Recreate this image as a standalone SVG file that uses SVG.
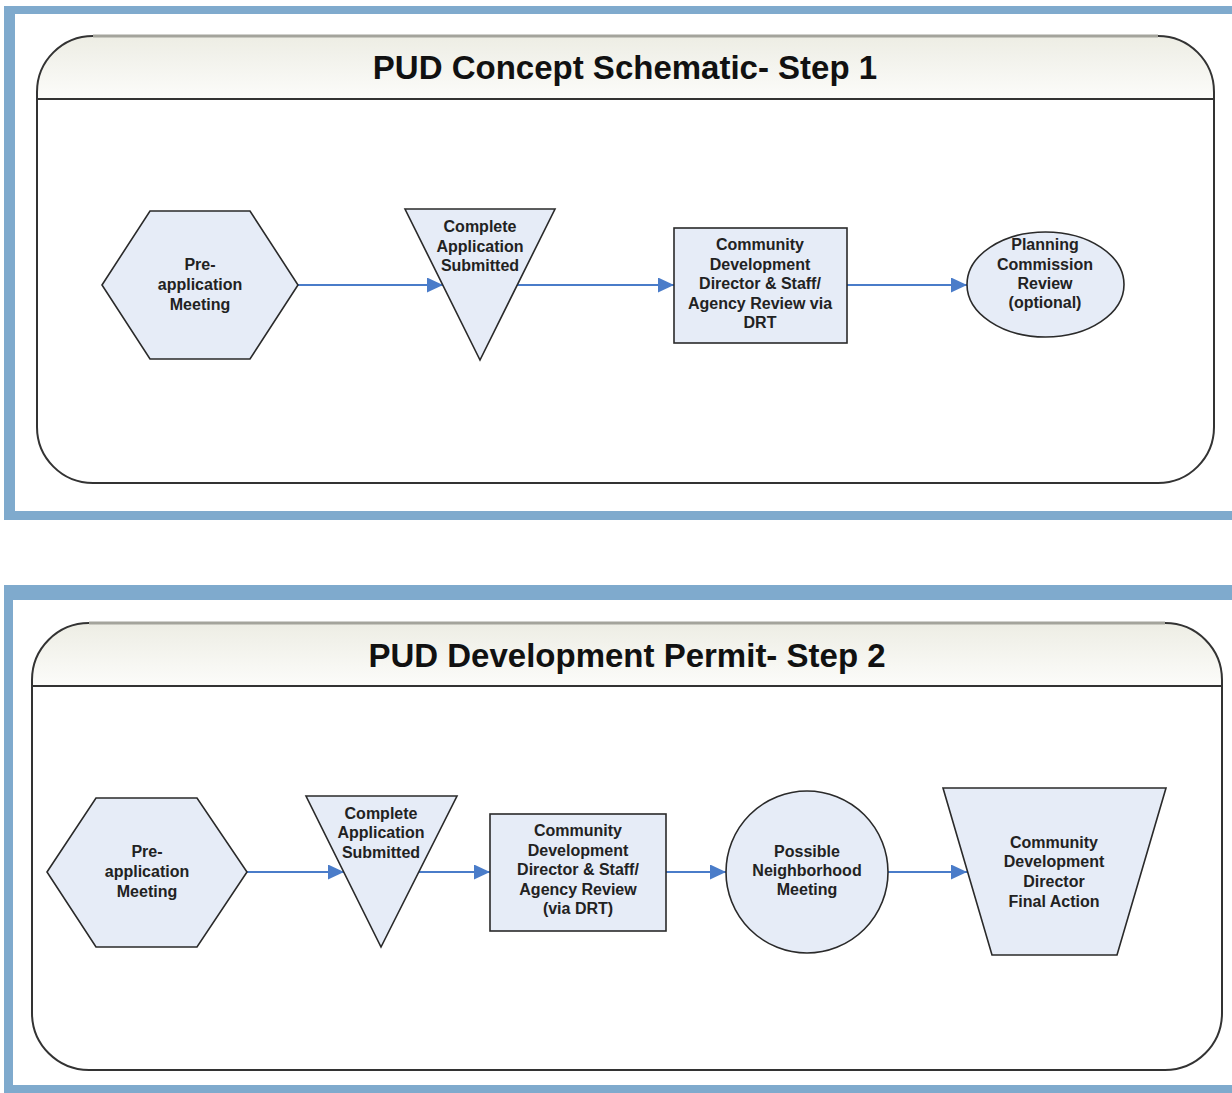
<svg xmlns="http://www.w3.org/2000/svg" width="1232" height="1093" viewBox="0 0 1232 1093">
<style>
.frame{fill:#7faacd}
.hdr{fill:url(#hg);stroke:none}
.outline{fill:none;stroke:#333;stroke-width:2}
.topline{fill:none;stroke:#a4a49c;stroke-width:3}
.title{font-family:"Liberation Sans",Arial,sans-serif;font-weight:bold;font-size:33px;fill:#111;text-anchor:middle}
.node{fill:#e6ecf7;stroke:#2a2a2a;stroke-width:1.6}
.lbl{font-family:"Liberation Sans",Arial,sans-serif;font-weight:bold;font-size:16px;fill:#222;text-anchor:middle}
.conn{stroke:#4a7cc9;stroke-width:2;fill:none;marker-end:url(#ah)}
</style>
<defs>
<linearGradient id="hg" x1="0" y1="0" x2="0" y2="1">
<stop offset="0" stop-color="#ededE4"/>
<stop offset="1" stop-color="#fcfcfa"/>
</linearGradient>
<marker id="ah" markerUnits="userSpaceOnUse" markerWidth="17" markerHeight="15" refX="16" refY="7.5" orient="auto">
<path d="M0,0 L16,7.5 L0,15 Z" fill="#4a7cc9"/>
</marker>
</defs>
<rect width="1232" height="1093" fill="#ffffff"/>
<g id="frame1">
<rect class="frame" x="4" y="6" width="1240" height="514"/>
<rect x="15" y="14" width="1230" height="497" fill="#fff"/>
</g>
<g id="frame2">
<rect class="frame" x="4" y="585" width="1240" height="520"/>
<rect x="13" y="600" width="1232" height="485" fill="#fff"/>
</g>
<g id="lane1">
<path class="hdr" d="M37,99 L37,92 A56,56 0 0 1 93,36 L1158,36 A56,56 0 0 1 1214,92 L1214,99 Z"/>
<path class="outline" d="M93,36 A56,56 0 0 0 37,92 L37,427 A56,56 0 0 0 93,483 L1158,483 A56,56 0 0 0 1214,427 L1214,92 A56,56 0 0 0 1158,36"/>
<path class="topline" d="M93,36 L1158,36"/>
<path class="outline" d="M37,99 L1214,99"/>
<text class="title" x="625" y="79">PUD Concept Schematic- Step 1</text>
</g>
<g id="lane2">
<path class="hdr" d="M32,686 L32,680 A57,57 0 0 1 89,623 L1165,623 A57,57 0 0 1 1222,680 L1222,686 Z"/>
<path class="outline" d="M89,623 A57,57 0 0 0 32,680 L32,1013 A57,57 0 0 0 89,1070 L1165,1070 A57,57 0 0 0 1222,1013 L1222,680 A57,57 0 0 0 1165,623"/>
<path class="topline" d="M89,623 L1165,623"/>
<path class="outline" d="M32,686 L1222,686"/>
<text class="title" x="627" y="667">PUD Development Permit- Step 2</text>
</g>
<g id="connectors">
<line class="conn" x1="298" y1="285" x2="443" y2="285"/>
<line class="conn" x1="517" y1="285" x2="674" y2="285"/>
<line class="conn" x1="847" y1="285" x2="967" y2="285"/>
<line class="conn" x1="247" y1="872" x2="344" y2="872"/>
<line class="conn" x1="419" y1="872" x2="490" y2="872"/>
<line class="conn" x1="666" y1="872" x2="726" y2="872"/>
<line class="conn" x1="888" y1="872" x2="967" y2="872"/>
</g>
<g id="s1-preapp">
<polygon class="node" points="102,285 150,211 250,211 298,285 250,359 150,359"/>
<text class="lbl" x="200" y="270">Pre-</text>
<text class="lbl" x="200" y="290">application</text>
<text class="lbl" x="200" y="310">Meeting</text>
</g>
<g id="s1-complete">
<polygon class="node" points="405,209 555,209 480,360"/>
<text class="lbl" x="480" y="232">Complete</text>
<text class="lbl" x="480" y="252">Application</text>
<text class="lbl" x="480" y="271">Submitted</text>
</g>
<g id="s1-review">
<rect class="node" x="674" y="228" width="173" height="115"/>
<text class="lbl" x="760" y="250">Community</text>
<text class="lbl" x="760" y="269.5">Development</text>
<text class="lbl" x="760" y="289">Director &amp; Staff/</text>
<text class="lbl" x="760" y="308.5">Agency Review via</text>
<text class="lbl" x="760" y="328">DRT</text>
</g>
<g id="s1-planning">
<ellipse class="node" cx="1045.5" cy="284.5" rx="78.5" ry="52.5"/>
<text class="lbl" x="1045" y="250">Planning</text>
<text class="lbl" x="1045" y="270">Commission</text>
<text class="lbl" x="1045" y="289">Review</text>
<text class="lbl" x="1045" y="308">(optional)</text>
</g>
<g id="s2-preapp">
<polygon class="node" points="47,872 96,798 197,798 247,872 197,947 96,947"/>
<text class="lbl" x="147" y="857">Pre-</text>
<text class="lbl" x="147" y="877">application</text>
<text class="lbl" x="147" y="897">Meeting</text>
</g>
<g id="s2-complete">
<polygon class="node" points="306,796 457,796 381,947"/>
<text class="lbl" x="381" y="819">Complete</text>
<text class="lbl" x="381" y="838">Application</text>
<text class="lbl" x="381" y="858">Submitted</text>
</g>
<g id="s2-review">
<rect class="node" x="490" y="814" width="176" height="117"/>
<text class="lbl" x="578" y="836">Community</text>
<text class="lbl" x="578" y="856">Development</text>
<text class="lbl" x="578" y="875">Director &amp; Staff/</text>
<text class="lbl" x="578" y="895">Agency Review</text>
<text class="lbl" x="578" y="914">(via DRT)</text>
</g>
<g id="s2-neighborhood">
<circle class="node" cx="807" cy="872" r="81"/>
<text class="lbl" x="807" y="857">Possible</text>
<text class="lbl" x="807" y="876">Neighborhood</text>
<text class="lbl" x="807" y="895">Meeting</text>
</g>
<g id="s2-final">
<polygon class="node" points="943,788 1166,788 1117,955 992,955"/>
<text class="lbl" x="1054" y="848">Community</text>
<text class="lbl" x="1054" y="867">Development</text>
<text class="lbl" x="1054" y="887">Director</text>
<text class="lbl" x="1054" y="907">Final Action</text>
</g>
</svg>
